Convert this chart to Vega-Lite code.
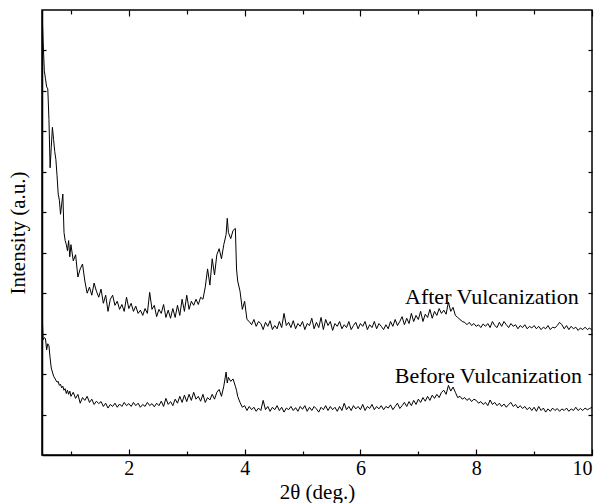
{
  "$schema": "https://vega.github.io/schema/vega-lite/v6.json",
  "autosize": "none",
  "width": 550,
  "height": 445,
  "padding": {"left": 42, "top": 10, "right": 8, "bottom": 48},
  "background": "white",
  "config": {
    "view": {"stroke": "black", "strokeWidth": 1.5},
    "font": "Liberation Serif",
    "axis": {"grid": false, "domainColor": "black", "domainWidth": 1.5, "tickColor": "black", "tickWidth": 1.2, "labelColor": "black", "titleColor": "black", "labelFont": "Liberation Serif", "titleFont": "Liberation Serif", "titleFontWeight": "normal", "labelFontSize": 20, "titleFontSize": 21}
  },
  "layer": [
    {
      "data": {"values": [
        {"x":0.50,"a":10.99,"b":3.55},{"x":0.52,"a":10.2,"b":2.85},{"x":0.54,"a":9.5,"b":2.9},{"x":0.56,"a":9.3,"b":2.88},{"x":0.58,"a":9.1,"b":2.6},{"x":0.60,"a":9.05,"b":2.75},{"x":0.62,"a":8.3,"b":2.7},{"x":0.64,"a":7.1,"b":2.4},{"x":0.66,"a":7.6,"b":2.15},{"x":0.68,"a":8.1,"b":2.05},{"x":0.70,"a":7.8,"b":1.95},{"x":0.72,"a":7.5,"b":1.9},{"x":0.74,"a":7.3,"b":1.85},{"x":0.76,"a":6.9,"b":1.8},{"x":0.78,"a":6.45,"b":1.82},{"x":0.80,"a":6.3,"b":1.72},{"x":0.82,"a":5.95,"b":1.75},{"x":0.84,"a":6.2,"b":1.66},{"x":0.86,"a":6.45,"b":1.7},{"x":0.88,"a":5.5,"b":1.6},{"x":0.90,"a":5.3,"b":1.64},{"x":0.92,"a":5.2,"b":1.52},{"x":0.94,"a":5.05,"b":1.6},{"x":0.96,"a":5.3,"b":1.5},{"x":0.98,"a":4.9,"b":1.58},
        {"x":1.00,"a":5.2,"b":1.45},{"x":1.04,"a":4.8,"b":1.55},{"x":1.08,"a":4.95,"b":1.4},{"x":1.12,"a":4.4,"b":1.5},{"x":1.16,"a":4.6,"b":1.28},{"x":1.20,"a":4.72,"b":1.42},{"x":1.24,"a":4.3,"b":1.35},{"x":1.28,"a":4.0,"b":1.45},{"x":1.32,"a":4.15,"b":1.3},{"x":1.36,"a":3.95,"b":1.38},{"x":1.40,"a":4.25,"b":1.25},{"x":1.44,"a":4.05,"b":1.33},{"x":1.48,"a":3.9,"b":1.27},{"x":1.52,"a":4.1,"b":1.32},{"x":1.56,"a":3.75,"b":1.2},{"x":1.60,"a":3.95,"b":1.28},{"x":1.64,"a":3.55,"b":1.16},{"x":1.68,"a":3.85,"b":1.25},{"x":1.72,"a":3.95,"b":1.2},{"x":1.76,"a":3.7,"b":1.28},{"x":1.80,"a":3.8,"b":1.18},{"x":1.84,"a":3.6,"b":1.26},{"x":1.88,"a":3.72,"b":1.2},{"x":1.92,"a":3.55,"b":1.3},{"x":1.96,"a":3.9,"b":1.22},
        {"x":2.00,"a":3.62,"b":1.27},{"x":2.04,"a":3.75,"b":1.2},{"x":2.08,"a":3.55,"b":1.3},{"x":2.12,"a":3.68,"b":1.22},{"x":2.16,"a":3.5,"b":1.28},{"x":2.20,"a":3.58,"b":1.18},{"x":2.24,"a":3.45,"b":1.25},{"x":2.28,"a":3.62,"b":1.2},{"x":2.32,"a":3.5,"b":1.3},{"x":2.36,"a":4.02,"b":1.22},{"x":2.40,"a":3.6,"b":1.27},{"x":2.44,"a":3.7,"b":1.19},{"x":2.48,"a":3.42,"b":1.28},{"x":2.52,"a":3.6,"b":1.22},{"x":2.56,"a":3.5,"b":1.33},{"x":2.60,"a":3.72,"b":1.2},{"x":2.64,"a":3.4,"b":1.4},{"x":2.68,"a":3.58,"b":1.25},{"x":2.72,"a":3.38,"b":1.32},{"x":2.76,"a":3.62,"b":1.22},{"x":2.80,"a":3.4,"b":1.38},{"x":2.84,"a":3.7,"b":1.28},{"x":2.88,"a":3.45,"b":1.45},{"x":2.92,"a":3.85,"b":1.3},{"x":2.96,"a":3.55,"b":1.48},
        {"x":3.00,"a":3.95,"b":1.32},{"x":3.04,"a":3.6,"b":1.5},{"x":3.08,"a":3.8,"b":1.35},{"x":3.12,"a":3.7,"b":1.55},{"x":3.16,"a":3.85,"b":1.38},{"x":3.20,"a":3.72,"b":1.45},{"x":3.24,"a":3.9,"b":1.33},{"x":3.28,"a":3.85,"b":1.5},{"x":3.32,"a":4.15,"b":1.3},{"x":3.36,"a":4.6,"b":1.42},{"x":3.40,"a":4.2,"b":1.36},{"x":3.44,"a":4.85,"b":1.5},{"x":3.48,"a":4.45,"b":1.38},{"x":3.52,"a":4.95,"b":1.55},{"x":3.56,"a":5.1,"b":1.62},{"x":3.60,"a":4.85,"b":1.45},{"x":3.64,"a":5.2,"b":1.7},{"x":3.68,"a":5.45,"b":2.05},{"x":3.70,"a":5.85,"b":1.78},{"x":3.72,"a":5.5,"b":1.92},{"x":3.76,"a":5.35,"b":1.82},{"x":3.80,"a":5.55,"b":1.88},{"x":3.84,"a":5.6,"b":1.7},{"x":3.86,"a":4.6,"b":1.6},{"x":3.88,"a":4.3,"b":1.45},{"x":3.92,"a":4.05,"b":1.3},{"x":3.96,"a":3.6,"b":1.18},
        {"x":4.00,"a":3.8,"b":1.22},{"x":4.04,"a":3.35,"b":1.1},{"x":4.08,"a":3.3,"b":1.2},{"x":4.12,"a":3.22,"b":1.12},{"x":4.16,"a":3.35,"b":1.18},{"x":4.20,"a":3.18,"b":1.08},{"x":4.24,"a":3.3,"b":1.16},{"x":4.28,"a":3.25,"b":1.1},{"x":4.32,"a":3.1,"b":1.35},{"x":4.36,"a":3.28,"b":1.12},{"x":4.40,"a":3.18,"b":1.2},{"x":4.44,"a":3.32,"b":1.08},{"x":4.48,"a":3.1,"b":1.18},{"x":4.52,"a":3.2,"b":1.12},{"x":4.56,"a":3.12,"b":1.22},{"x":4.60,"a":3.3,"b":1.1},{"x":4.64,"a":3.15,"b":1.18},{"x":4.68,"a":3.5,"b":1.06},{"x":4.72,"a":3.2,"b":1.16},{"x":4.76,"a":3.28,"b":1.12},{"x":4.80,"a":3.15,"b":1.2},{"x":4.84,"a":3.32,"b":1.1},{"x":4.88,"a":3.12,"b":1.17},{"x":4.92,"a":3.25,"b":1.08},{"x":4.96,"a":3.18,"b":1.2},
        {"x":5.00,"a":3.3,"b":1.13},{"x":5.04,"a":3.1,"b":1.22},{"x":5.08,"a":3.25,"b":1.08},{"x":5.12,"a":3.2,"b":1.18},{"x":5.16,"a":3.38,"b":1.1},{"x":5.20,"a":3.12,"b":1.2},{"x":5.24,"a":3.28,"b":1.14},{"x":5.28,"a":3.15,"b":1.06},{"x":5.32,"a":3.4,"b":1.18},{"x":5.36,"a":3.1,"b":1.12},{"x":5.40,"a":3.35,"b":1.22},{"x":5.44,"a":3.2,"b":1.1},{"x":5.48,"a":3.3,"b":1.2},{"x":5.52,"a":3.08,"b":1.12},{"x":5.56,"a":3.25,"b":1.18},{"x":5.60,"a":3.18,"b":1.08},{"x":5.64,"a":3.3,"b":1.2},{"x":5.68,"a":3.12,"b":1.1},{"x":5.72,"a":3.22,"b":1.28},{"x":5.76,"a":3.15,"b":1.12},{"x":5.80,"a":3.3,"b":1.2},{"x":5.84,"a":3.1,"b":1.1},{"x":5.88,"a":3.2,"b":1.22},{"x":5.92,"a":3.28,"b":1.14},{"x":5.96,"a":3.12,"b":1.2},
        {"x":6.00,"a":3.25,"b":1.12},{"x":6.04,"a":3.18,"b":1.25},{"x":6.08,"a":3.3,"b":1.1},{"x":6.12,"a":3.1,"b":1.2},{"x":6.16,"a":3.22,"b":1.15},{"x":6.20,"a":3.15,"b":1.25},{"x":6.24,"a":3.3,"b":1.12},{"x":6.28,"a":3.12,"b":1.2},{"x":6.32,"a":3.25,"b":1.14},{"x":6.36,"a":3.18,"b":1.22},{"x":6.40,"a":3.1,"b":1.12},{"x":6.44,"a":3.22,"b":1.2},{"x":6.48,"a":3.12,"b":1.16},{"x":6.52,"a":3.3,"b":1.24},{"x":6.56,"a":3.18,"b":1.12},{"x":6.60,"a":3.35,"b":1.2},{"x":6.64,"a":3.2,"b":1.28},{"x":6.68,"a":3.3,"b":1.15},{"x":6.72,"a":3.42,"b":1.22},{"x":6.76,"a":3.22,"b":1.3},{"x":6.80,"a":3.38,"b":1.2},{"x":6.84,"a":3.25,"b":1.32},{"x":6.88,"a":3.5,"b":1.22},{"x":6.92,"a":3.3,"b":1.35},{"x":6.96,"a":3.45,"b":1.25},
        {"x":7.00,"a":3.35,"b":1.38},{"x":7.04,"a":3.55,"b":1.3},{"x":7.08,"a":3.3,"b":1.42},{"x":7.12,"a":3.48,"b":1.33},{"x":7.16,"a":3.4,"b":1.45},{"x":7.20,"a":3.6,"b":1.35},{"x":7.24,"a":3.38,"b":1.48},{"x":7.28,"a":3.55,"b":1.4},{"x":7.32,"a":3.45,"b":1.5},{"x":7.36,"a":3.62,"b":1.42},{"x":7.40,"a":3.5,"b":1.55},{"x":7.44,"a":3.58,"b":1.6},{"x":7.48,"a":3.48,"b":1.5},{"x":7.52,"a":3.78,"b":1.72},{"x":7.56,"a":3.55,"b":1.58},{"x":7.60,"a":3.65,"b":1.68},{"x":7.64,"a":3.45,"b":1.55},{"x":7.68,"a":3.4,"b":1.42},{"x":7.72,"a":3.35,"b":1.45},{"x":7.76,"a":3.3,"b":1.38},{"x":7.80,"a":3.28,"b":1.42},{"x":7.84,"a":3.22,"b":1.35},{"x":7.88,"a":3.28,"b":1.4},{"x":7.92,"a":3.2,"b":1.32},{"x":7.96,"a":3.25,"b":1.38},
        {"x":8.00,"a":3.18,"b":1.35},{"x":8.04,"a":3.22,"b":1.28},{"x":8.08,"a":3.15,"b":1.32},{"x":8.12,"a":3.24,"b":1.25},{"x":8.16,"a":3.18,"b":1.3},{"x":8.20,"a":3.25,"b":1.22},{"x":8.24,"a":3.15,"b":1.36},{"x":8.28,"a":3.3,"b":1.25},{"x":8.32,"a":3.2,"b":1.3},{"x":8.36,"a":3.15,"b":1.22},{"x":8.40,"a":3.28,"b":1.28},{"x":8.44,"a":3.18,"b":1.2},{"x":8.48,"a":3.3,"b":1.26},{"x":8.52,"a":3.22,"b":1.18},{"x":8.56,"a":3.15,"b":1.25},{"x":8.60,"a":3.25,"b":1.3},{"x":8.64,"a":3.18,"b":1.2},{"x":8.68,"a":3.22,"b":1.25},{"x":8.72,"a":3.12,"b":1.16},{"x":8.76,"a":3.2,"b":1.22},{"x":8.80,"a":3.15,"b":1.15},{"x":8.84,"a":3.22,"b":1.2},{"x":8.88,"a":3.12,"b":1.12},{"x":8.92,"a":3.18,"b":1.18},{"x":8.96,"a":3.14,"b":1.1},
        {"x":9.00,"a":3.2,"b":1.18},{"x":9.04,"a":3.12,"b":1.08},{"x":9.08,"a":3.18,"b":1.2},{"x":9.12,"a":3.1,"b":1.1},{"x":9.16,"a":3.16,"b":1.16},{"x":9.20,"a":3.12,"b":1.06},{"x":9.24,"a":3.2,"b":1.14},{"x":9.28,"a":3.1,"b":1.08},{"x":9.32,"a":3.16,"b":1.16},{"x":9.36,"a":3.14,"b":1.1},{"x":9.40,"a":3.2,"b":1.15},{"x":9.44,"a":3.28,"b":1.08},{"x":9.48,"a":3.22,"b":1.14},{"x":9.52,"a":3.12,"b":1.1},{"x":9.56,"a":3.2,"b":1.16},{"x":9.60,"a":3.1,"b":1.08},{"x":9.64,"a":3.18,"b":1.14},{"x":9.68,"a":3.12,"b":1.1},{"x":9.72,"a":3.16,"b":1.18},{"x":9.76,"a":3.08,"b":1.1},{"x":9.80,"a":3.14,"b":1.15},{"x":9.84,"a":3.1,"b":1.1},{"x":9.88,"a":3.16,"b":1.16},{"x":9.92,"a":3.1,"b":1.12},{"x":9.96,"a":3.14,"b":1.15},{"x":10.00,"a":3.08,"b":1.18}
      ]},
      "transform": [{"fold": ["a", "b"], "as": ["series", "v"]}],
      "mark": {"type": "line", "color": "black", "strokeWidth": 1, "clip": true},
      "encoding": {
        "x": {"field": "x", "type": "quantitative", "scale": {"domain": [0.5, 10], "nice": false, "zero": false},
              "axis": {"orient": "bottom", "title": "2θ (deg.)", "values": [2,4,6,8,10], "ticks": false, "tickSize": 0, "labelPadding": 3, "titlePadding": 3}},
        "y": {"field": "v", "type": "quantitative", "scale": {"domain": [0, 11], "nice": false, "zero": false},
              "axis": {"orient": "left", "title": "Intensity (a.u.)", "labels": false, "ticks": false, "tickSize": 0, "titlePadding": 14}},
        "detail": {"field": "series", "type": "nominal"}
      }
    },
    {
      "data": {"values": [
        {"x": 8.27, "v": 3.73, "label": "After Vulcanization"},
        {"x": 8.21, "v": 1.78, "label": "Before Vulcanization"}
      ]},
      "mark": {"type": "text", "font": "Liberation Serif", "fontSize": 22, "color": "black", "align": "center", "baseline": "alphabetic"},
      "encoding": {
        "x": {"field": "x", "type": "quantitative", "scale": {"domain": [0.5, 10], "nice": false, "zero": false},
              "axis": {"orient": "top", "offset": -445, "title": null, "labels": false, "domain": false, "values": [1,2,3,4,5,6,7,8,9,10], "tickSize": {"condition": {"test": "datum.value % 2 == 0", "value": 6}, "value": 4}}},
        "y": {"field": "v", "type": "quantitative", "scale": {"domain": [0, 11], "nice": false, "zero": false},
              "axis": {"orient": "right", "offset": -550, "title": null, "labels": false, "domain": false, "values": [1,2,3,4,5,6,7,8,9,10], "tickSize": 4}},
        "text": {"field": "label", "type": "nominal"}
      }
    },
    {
      "data": {"values": [
        {"x": 8.27, "v": 3.73, "label": "After Vulcanization"}
      ]},
      "mark": {"type": "text", "opacity": 0},
      "encoding": {
        "x": {"field": "x", "type": "quantitative", "scale": {"domain": [0.5, 10], "nice": false, "zero": false},
              "axis": {"orient": "bottom", "offset": -445, "title": null, "labels": false, "domain": false, "values": [1,2,3,4,5,6,7,8,9,10], "tickSize": {"condition": {"test": "datum.value % 2 == 0", "value": 6}, "value": 4}}},
        "y": {"field": "v", "type": "quantitative", "scale": {"domain": [0, 11], "nice": false, "zero": false},
              "axis": {"orient": "left", "offset": -550, "title": null, "labels": false, "domain": false, "values": [1,2,3,4,5,6,7,8,9,10], "tickSize": 4}},
        "text": {"field": "label", "type": "nominal"}
      }
    }
  ],
  "resolve": {"axis": {"x": "independent", "y": "independent"}}
}
